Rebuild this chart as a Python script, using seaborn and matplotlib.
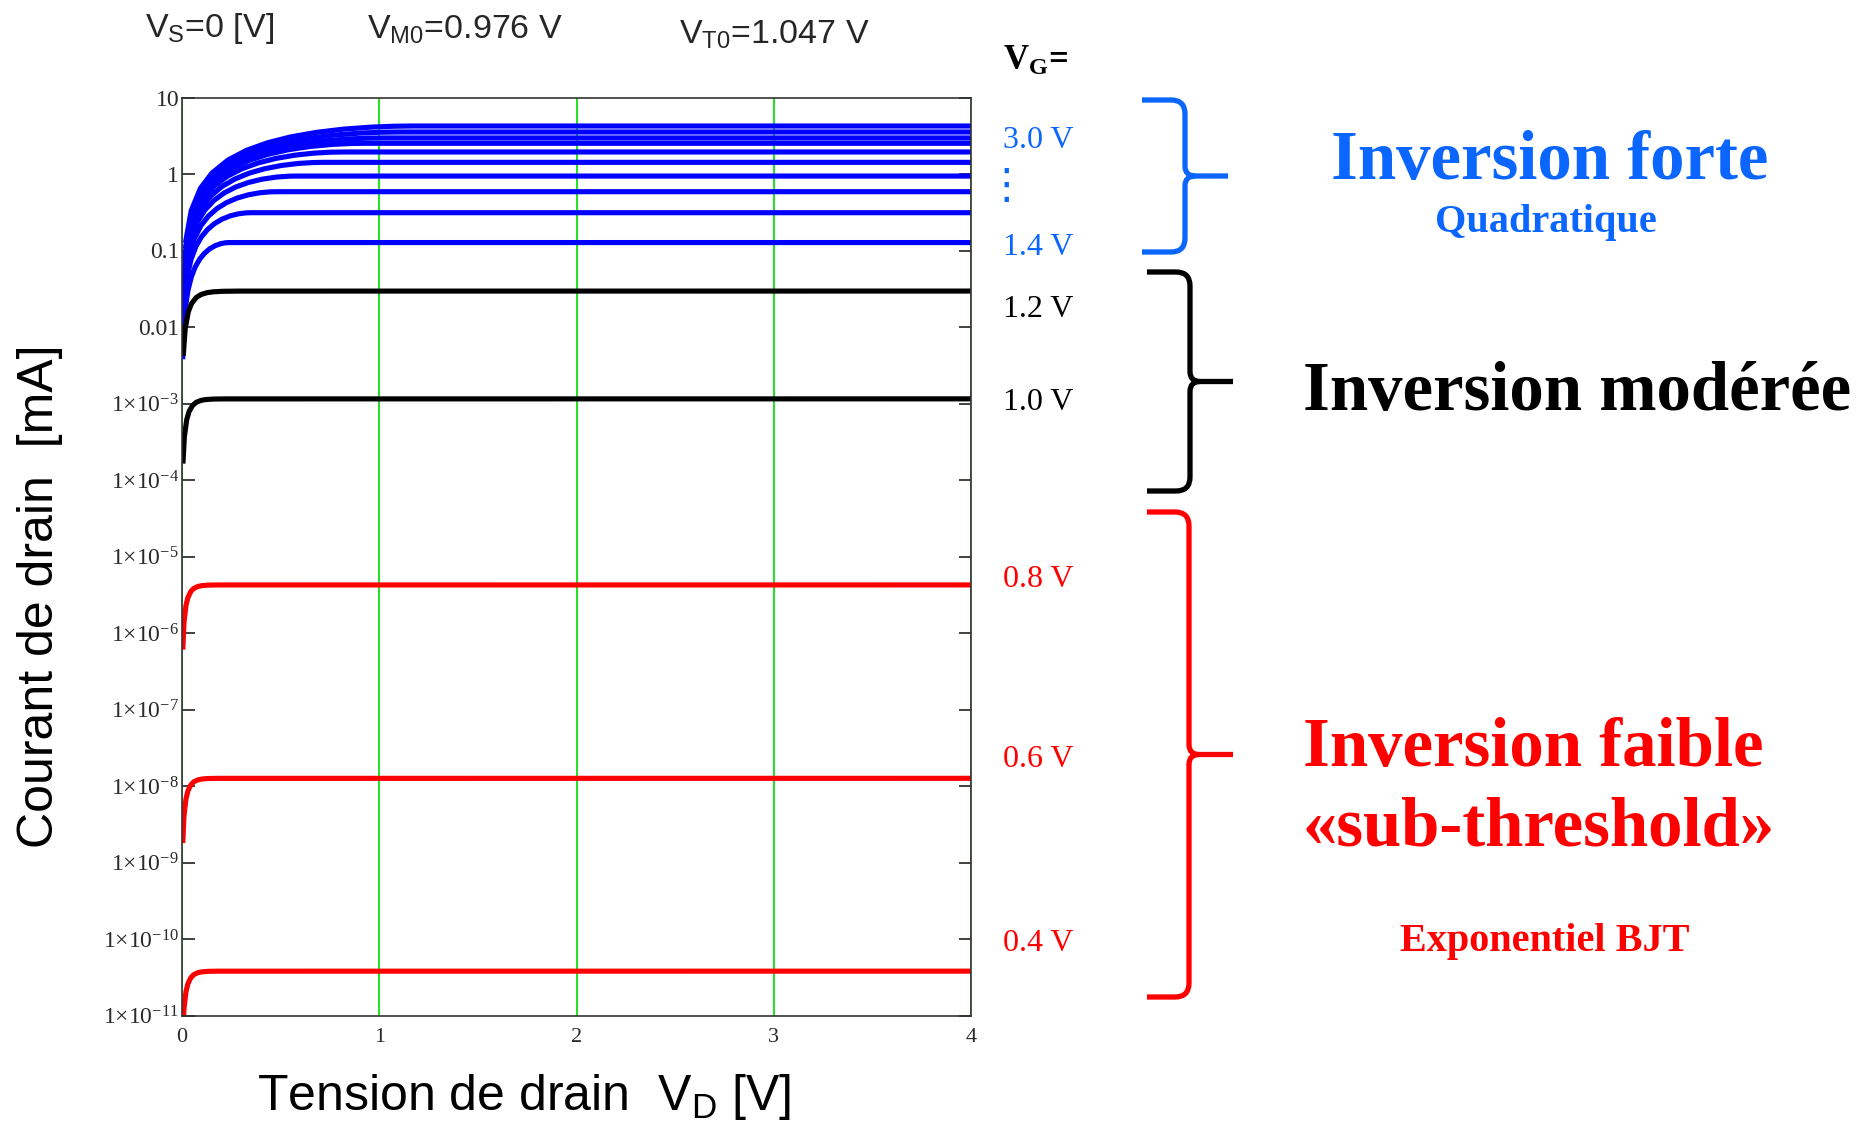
import matplotlib
matplotlib.use("Agg")
import matplotlib.pyplot as plt
from matplotlib import font_manager
from matplotlib.path import Path
from matplotlib.patches import PathPatch
from matplotlib.ticker import NullLocator
import pandas as pd
import seaborn as sns

# ---------------------------------------------------------------- data
# Strong inversion sweep, V_G = 1.4 V ... 3.0 V : saturation current [mA]
strong_isat = [0.127, 0.312, 0.587, 0.94, 1.42, 1.94, 2.52, 2.96, 3.54, 4.24]
# drain saturation voltage [V] of each of those curves
strong_vdsat = [0.24, 0.35, 0.48, 0.58, 0.72, 0.82, 0.93, 1.02, 1.10, 1.17]

# Moderate inversion, V_G = 1.2 V and 1.0 V
moderate_isat = [0.0295, 1.15e-3]
moderate_stretch = [1.6, 1.2]      # slower rise than the sub-threshold shape

# Weak inversion, V_G = 0.8 V, 0.6 V, 0.4 V
weak_isat = [4.25e-6, 1.26e-8, 3.8e-11]
weak_stretch = [1.0, 1.0, 1.0]

# Rise of a strong-inversion curve:  V_D / V_Dsat  ->  I_D / I_Dsat
quad_u = [0.015, 0.04, 0.08, 0.13, 0.2, 0.28, 0.37, 0.47, 0.58, 0.7, 0.82, 0.92, 1.0]
quad_frac = [0.0298, 0.0784, 0.1536, 0.2431, 0.36, 0.4816, 0.6031, 0.7191,
             0.8236, 0.91, 0.9676, 0.9936, 1.0]

# Rise of a sub-threshold curve:  V_D [V]  ->  I_D / I_Dsat
exp_vd = [0.004, 0.01, 0.02, 0.03, 0.045, 0.06, 0.08, 0.1, 0.13, 0.18]
exp_frac = [0.1426, 0.3193, 0.5366, 0.6846, 0.8229, 0.9005, 0.9539, 0.9786, 0.9933, 0.999]

VD_MAX = 4.0
x_ticks = [0, 1, 2, 3, 4]
y_exponents = list(range(-11, 2))

vg_labels_strong = ["3.0 V", "1.4 V"]
vg_labels_moderate = ["1.2 V", "1.0 V"]
vg_labels_weak = ["0.8 V", "0.6 V", "0.4 V"]

BLUE_CURVE = "#0000ff"
BLUE_TEXT = "#0a66ff"
RED = "#ff0000"
BLACK = "#000000"
GREEN = "#1ee21e"

# ---------------------------------------------------------------- style
sns.set_style("white")
names = {f.name for f in font_manager.fontManager.ttflist}
NARROW = "Liberation Sans Narrow" in names
SANS = "Liberation Sans Narrow" if NARROW else "Liberation Sans"
SERIF = "Liberation Serif"
plt.rcParams["font.family"] = [SANS, "DejaVu Sans"]
plt.rcParams["mathtext.fontset"] = "custom"
plt.rcParams["mathtext.rm"] = SERIF
plt.rcParams["mathtext.sf"] = SANS
plt.rcParams["mathtext.bf"] = SERIF + ":bold"
plt.rcParams["mathtext.it"] = SERIF + ":italic"

W, H = 1869, 1130
fig = plt.figure(figsize=(W / 100, H / 100), dpi=100)
fig.patch.set_facecolor("white")


def fp(x, y):
    """pixel position (origin top-left) -> figure fraction"""
    return x / W, 1 - y / H


ax = fig.add_axes([182 / W, 1 - 1015.5 / H, (971 - 182) / W, (1015.5 - 97.5) / H])

# ---------------------------------------------------------------- curves
rows = []
palette = {}
for i, (isat, vdsat) in enumerate(zip(strong_isat, strong_vdsat)):
    name = f"strong_{i}"
    palette[name] = BLUE_CURVE
    for u, f in zip(quad_u, quad_frac):
        rows.append((name, u * vdsat, f * isat))
    rows.append((name, VD_MAX, isat))

for i, (isat, k) in enumerate(zip(moderate_isat, moderate_stretch)):
    name = f"moderate_{i}"
    palette[name] = BLACK
    for v, f in zip(exp_vd, exp_frac):
        rows.append((name, v * k, f * isat))
    rows.append((name, VD_MAX, isat))

for i, (isat, k) in enumerate(zip(weak_isat, weak_stretch)):
    name = f"weak_{i}"
    palette[name] = RED
    for v, f in zip(exp_vd, exp_frac):
        rows.append((name, v * k, f * isat))
    rows.append((name, VD_MAX, isat))

df = pd.DataFrame(rows, columns=["curve", "VD", "ID"])

ax.set_yscale("log")
sns.lineplot(data=df, x="VD", y="ID", hue="curve", palette=palette,
             estimator=None, sort=False, legend=False, linewidth=3.7,
             solid_capstyle="butt", ax=ax)

ax.set_xlim(0, VD_MAX)
ax.set_ylim(1e-11, 10)
ax.set_xlabel("")
ax.set_ylabel("")

# ---------------------------------------------------------------- axes decoration
ax.set_axisbelow(True)
ax.set_xticks(x_ticks)
ax.set_xticklabels([str(t) for t in x_ticks], fontfamily=SERIF, fontsize=16,
                   color="#2a2a2a")
ax.grid(axis="x", color=GREEN, linewidth=1.4)
ax.grid(axis="y", visible=False)

ylabels = []
for e in y_exponents:
    if e >= -2:
        ylabels.append(f"{10.0 ** e:g}")
    else:
        ylabels.append(r"$\mathrm{1{\times}10^{" + f"-{-e}" + r"}}$")
ax.set_yticks([10.0 ** e for e in y_exponents])
ax.set_yticklabels(ylabels, fontfamily=SERIF, fontsize=17, color="#2a2a2a")
ax.yaxis.set_minor_locator(NullLocator())

ax.tick_params(axis="x", length=0, pad=9)
ax.tick_params(axis="y", direction="in", length=9, width=1.3, color="#333333",
               left=True, right=True, pad=2)
for s in ax.spines.values():
    s.set_color("#333333")
    s.set_linewidth(1.2)

# ---------------------------------------------------------------- axis titles
lab_size = 44 if NARROW else 36
hdr_size = 30 if NARROW else 24.5
fig.text(*fp(40, 596), "Courant de drain  [mA]", rotation=90, ha="center",
         va="center", fontsize=lab_size, color=BLACK)
fig.text(*fp(524, 1110), r"Tension de drain  $\mathsf{V_{D}}$ [V]", ha="center",
         va="baseline", fontsize=lab_size, color=BLACK)

# header line
fig.text(*fp(145, 37), r"$\mathsf{V_{S}}$=0 [V]", ha="left", va="baseline",
         fontsize=hdr_size)
fig.text(*fp(367, 39), r"$\mathsf{V_{M0}}$=0.976 V", ha="left", va="baseline",
         fontsize=hdr_size)
fig.text(*fp(679, 44), r"$\mathsf{V_{T0}}$=1.047 V", ha="left", va="baseline",
         fontsize=hdr_size)

# ---------------------------------------------------------------- V_G labels
fig.text(*fp(1003, 70), r"$\mathbf{V_{G}}$=", ha="left", va="baseline",
         fontsize=25, family=SERIF, fontweight="bold", color=BLACK)
vg_pos = [(vg_labels_strong[0], 148, BLUE_TEXT), (vg_labels_strong[1], 255, BLUE_TEXT),
          (vg_labels_moderate[0], 317, BLACK), (vg_labels_moderate[1], 410, BLACK),
          (vg_labels_weak[0], 587, RED), (vg_labels_weak[1], 767, RED),
          (vg_labels_weak[2], 951, RED)]
for txt, yb, col in vg_pos:
    fig.text(*fp(1003, yb), txt, ha="left", va="baseline", fontsize=23,
             family=SERIF, color=col)
fig.text(*fp(1006, 186), "\u22ee", ha="center", va="center", fontsize=30,
         family=["DejaVu Sans"], color=BLUE_TEXT)


# ---------------------------------------------------------------- braces
def brace(x0, xv, xt, top, bot, color):
    r, r2 = 14, 10
    mid = (top + bot) / 2
    pts = [((x0, top), Path.MOVETO),
           ((xv - r, top), Path.LINETO),
           ((xv, top), Path.CURVE3), ((xv, top + r), Path.CURVE3),
           ((xv, mid - r2), Path.LINETO),
           ((xv, mid), Path.CURVE3), ((xv + r2, mid), Path.CURVE3),
           ((xt, mid), Path.LINETO),
           ((xv + r2, mid), Path.MOVETO),
           ((xv, mid), Path.CURVE3), ((xv, mid + r2), Path.CURVE3),
           ((xv, bot - r), Path.LINETO),
           ((xv, bot), Path.CURVE3), ((xv - r, bot), Path.CURVE3),
           ((x0, bot), Path.LINETO)]
    verts = [fp(*p) for p, _ in pts]
    codes = [c for _, c in pts]
    patch = PathPatch(Path(verts, codes), transform=fig.transFigure, fill=False,
                      linewidth=3.8, edgecolor=color, capstyle="butt",
                      joinstyle="round")
    fig.add_artist(patch)


brace(1142, 1185, 1228, 100, 252, BLUE_TEXT)
brace(1147, 1190, 1233, 272, 491, BLACK)
brace(1147, 1189, 1233, 512, 997, RED)

# ---------------------------------------------------------------- regime titles
big = dict(family=SERIF, fontweight="bold", fontsize=49.5)
small = dict(family=SERIF, fontweight="bold", fontsize=29)
fig.text(*fp(1550, 179), "Inversion forte", ha="center", va="baseline",
         color=BLUE_TEXT, **big)
fig.text(*fp(1546, 232), "Quadratique", ha="center", va="baseline",
         color=BLUE_TEXT, **small)
fig.text(*fp(1303, 410), "Inversion modérée", ha="left", va="baseline",
         color=BLACK, **big)
fig.text(*fp(1303, 766), "Inversion faible", ha="left", va="baseline",
         color=RED, **big)
fig.text(*fp(1303, 846), "«sub-threshold»", ha="left", va="baseline",
         color=RED, **big)
fig.text(*fp(1545, 951), "Exponentiel BJT", ha="center", va="baseline",
         color=RED, **small)

fig.savefig("out.png", dpi=100, facecolor="white")
